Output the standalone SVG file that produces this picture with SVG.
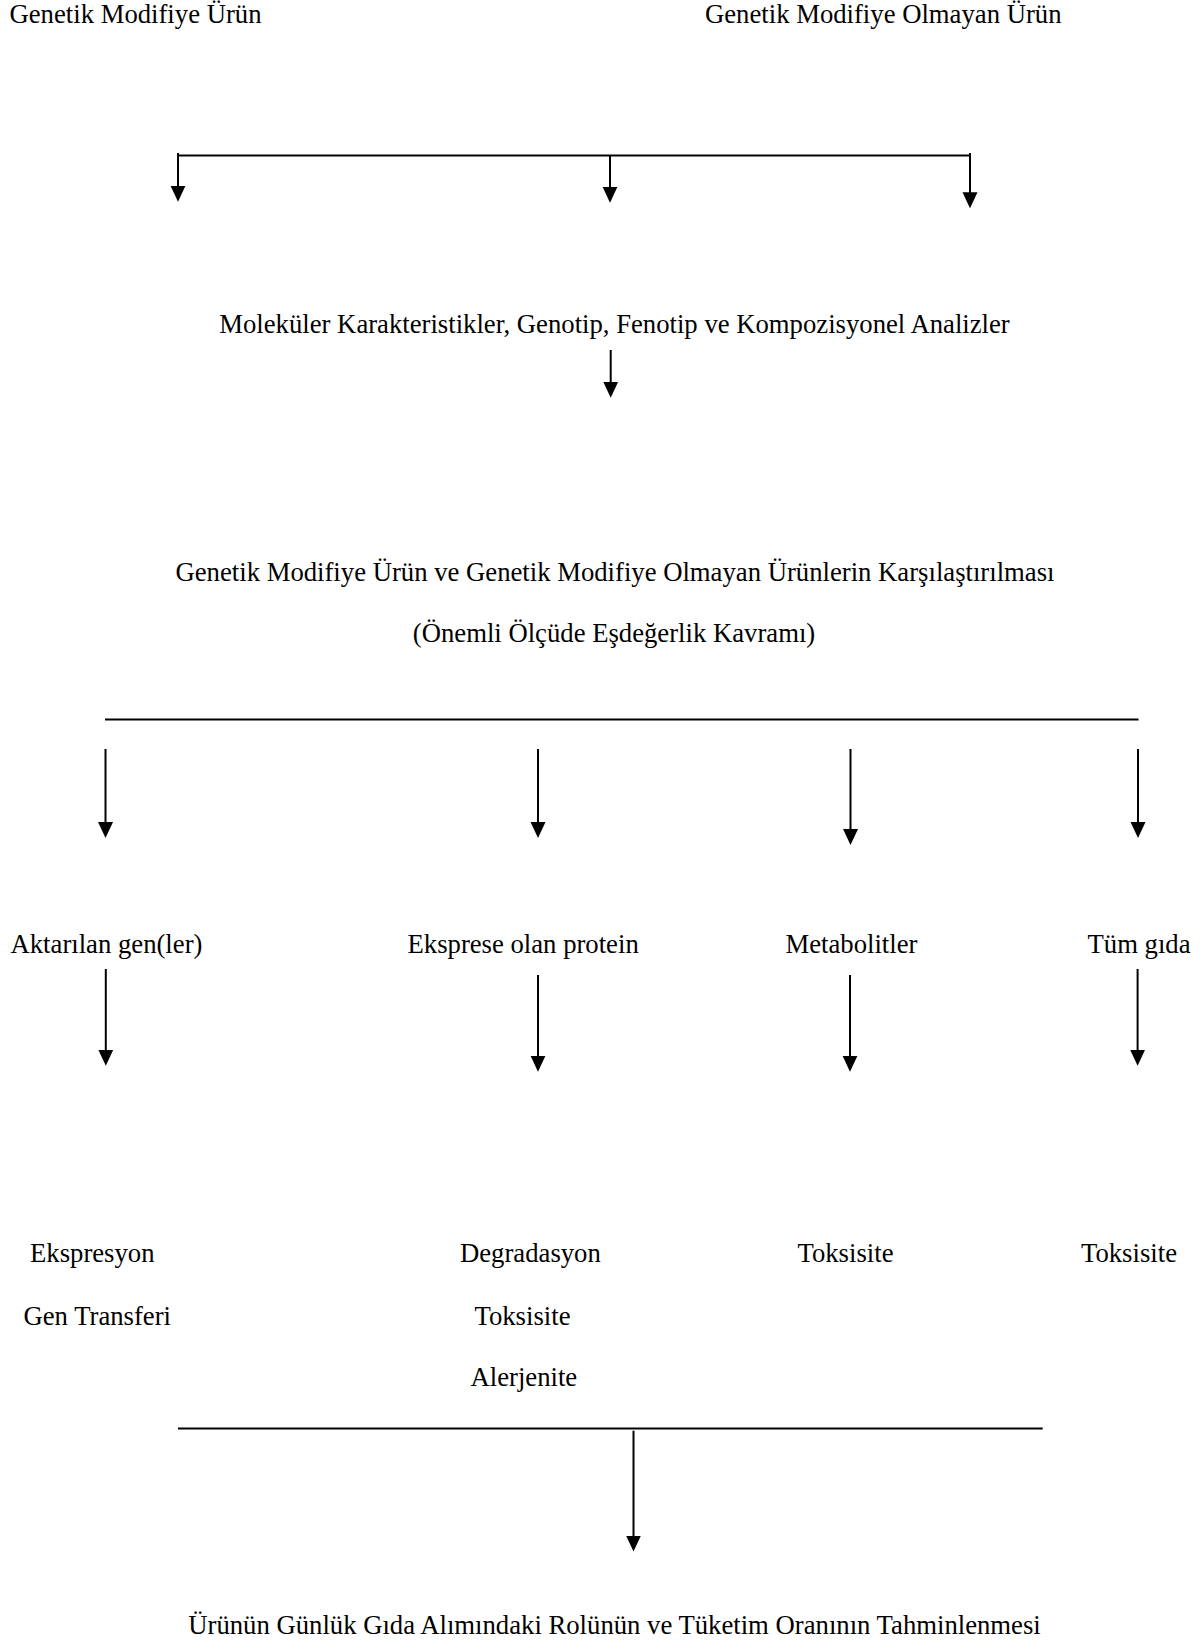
<svg xmlns="http://www.w3.org/2000/svg" width="1202" height="1643" viewBox="0 0 1202 1643">
  <style>
    text { font-family: "Liberation Serif", "Times New Roman", serif; font-size: 26.7px; fill: #000; }
    .c { text-anchor: middle; }
    .ln { stroke: #000; stroke-width: 2; fill: none; }
    .ar { stroke: #000; stroke-width: 2; fill: none; marker-end: url(#ah); }
  </style>
  <defs>
    <marker id="ah" markerUnits="userSpaceOnUse" markerWidth="16" markerHeight="16" viewBox="0 -8 16 16" refX="8" refY="0" orient="auto">
      <path d="M0,-7.5 L16,0 L0,7.5 Z" fill="#000"/>
    </marker>
  </defs>
  <rect width="1202" height="1643" fill="#fff"/>

  <g id="node-gm"><text x="9.5" y="23">Genetik Modifiye Ürün</text></g>
  <g id="node-non-gm"><text x="705" y="23">Genetik Modifiye Olmayan Ürün</text></g>
  <g id="node-analizler"><text class="c" x="614.5" y="333">Moleküler Karakteristikler, Genotip, Fenotip ve Kompozisyonel Analizler</text></g>
  <g id="node-karsilastirma">
    <text class="c" x="615" y="581">Genetik Modifiye Ürün ve Genetik Modifiye Olmayan Ürünlerin Karşılaştırılması</text>
    <text class="c" x="614" y="642">(Önemli Ölçüde Eşdeğerlik Kavramı)</text>
  </g>
  <g id="node-aktarilan"><text x="10.5" y="953">Aktarılan gen(ler)</text></g>
  <g id="node-protein"><text x="407.5" y="953">Eksprese olan protein</text></g>
  <g id="node-metabolitler"><text x="785.5" y="953">Metabolitler</text></g>
  <g id="node-tum-gida"><text x="1087.5" y="953">Tüm gıda</text></g>
  <g id="node-aktarilan-risk">
    <text x="30" y="1262">Ekspresyon</text>
    <text x="23.5" y="1325">Gen Transferi</text>
  </g>
  <g id="node-protein-risk">
    <text x="460" y="1262">Degradasyon</text>
    <text x="474.5" y="1325">Toksisite</text>
    <text x="470.5" y="1386">Alerjenite</text>
  </g>
  <g id="node-metabolitler-risk"><text x="797.5" y="1262">Toksisite</text></g>
  <g id="node-tum-gida-risk"><text x="1081" y="1262">Toksisite</text></g>
  <g id="node-tahmin"><text class="c" x="614.5" y="1634">Ürünün Günlük Gıda Alımındaki Rolünün ve Tüketim Oranının Tahminlenmesi</text></g>

  <g id="connectors">
    <line class="ln" x1="178" y1="155.5" x2="970" y2="155.5"/>
    <line class="ar" x1="178" y1="153" x2="178" y2="193.7"/>
    <line class="ar" x1="610" y1="155.5" x2="610" y2="194.7"/>
    <line class="ar" x1="970" y1="153" x2="970" y2="200.3"/>

    <line class="ar" x1="610.7" y1="350" x2="610.7" y2="389.7"/>

    <line class="ln" x1="105" y1="719.5" x2="1138.5" y2="719.5"/>
    <line class="ar" x1="105.5" y1="749" x2="105.5" y2="830"/>
    <line class="ar" x1="538" y1="749" x2="538" y2="830"/>
    <line class="ar" x1="850.5" y1="749" x2="850.5" y2="837"/>
    <line class="ar" x1="1138" y1="749" x2="1138" y2="830"/>

    <line class="ar" x1="105.8" y1="969" x2="105.8" y2="1057.7"/>
    <line class="ar" x1="538" y1="975" x2="538" y2="1063.7"/>
    <line class="ar" x1="850" y1="975" x2="850" y2="1063.7"/>
    <line class="ar" x1="1137.6" y1="969" x2="1137.6" y2="1057.7"/>

    <line class="ln" x1="178" y1="1428.5" x2="1042.7" y2="1428.5"/>
    <line class="ar" x1="633.5" y1="1430.7" x2="633.5" y2="1543.5"/>
  </g>
</svg>
